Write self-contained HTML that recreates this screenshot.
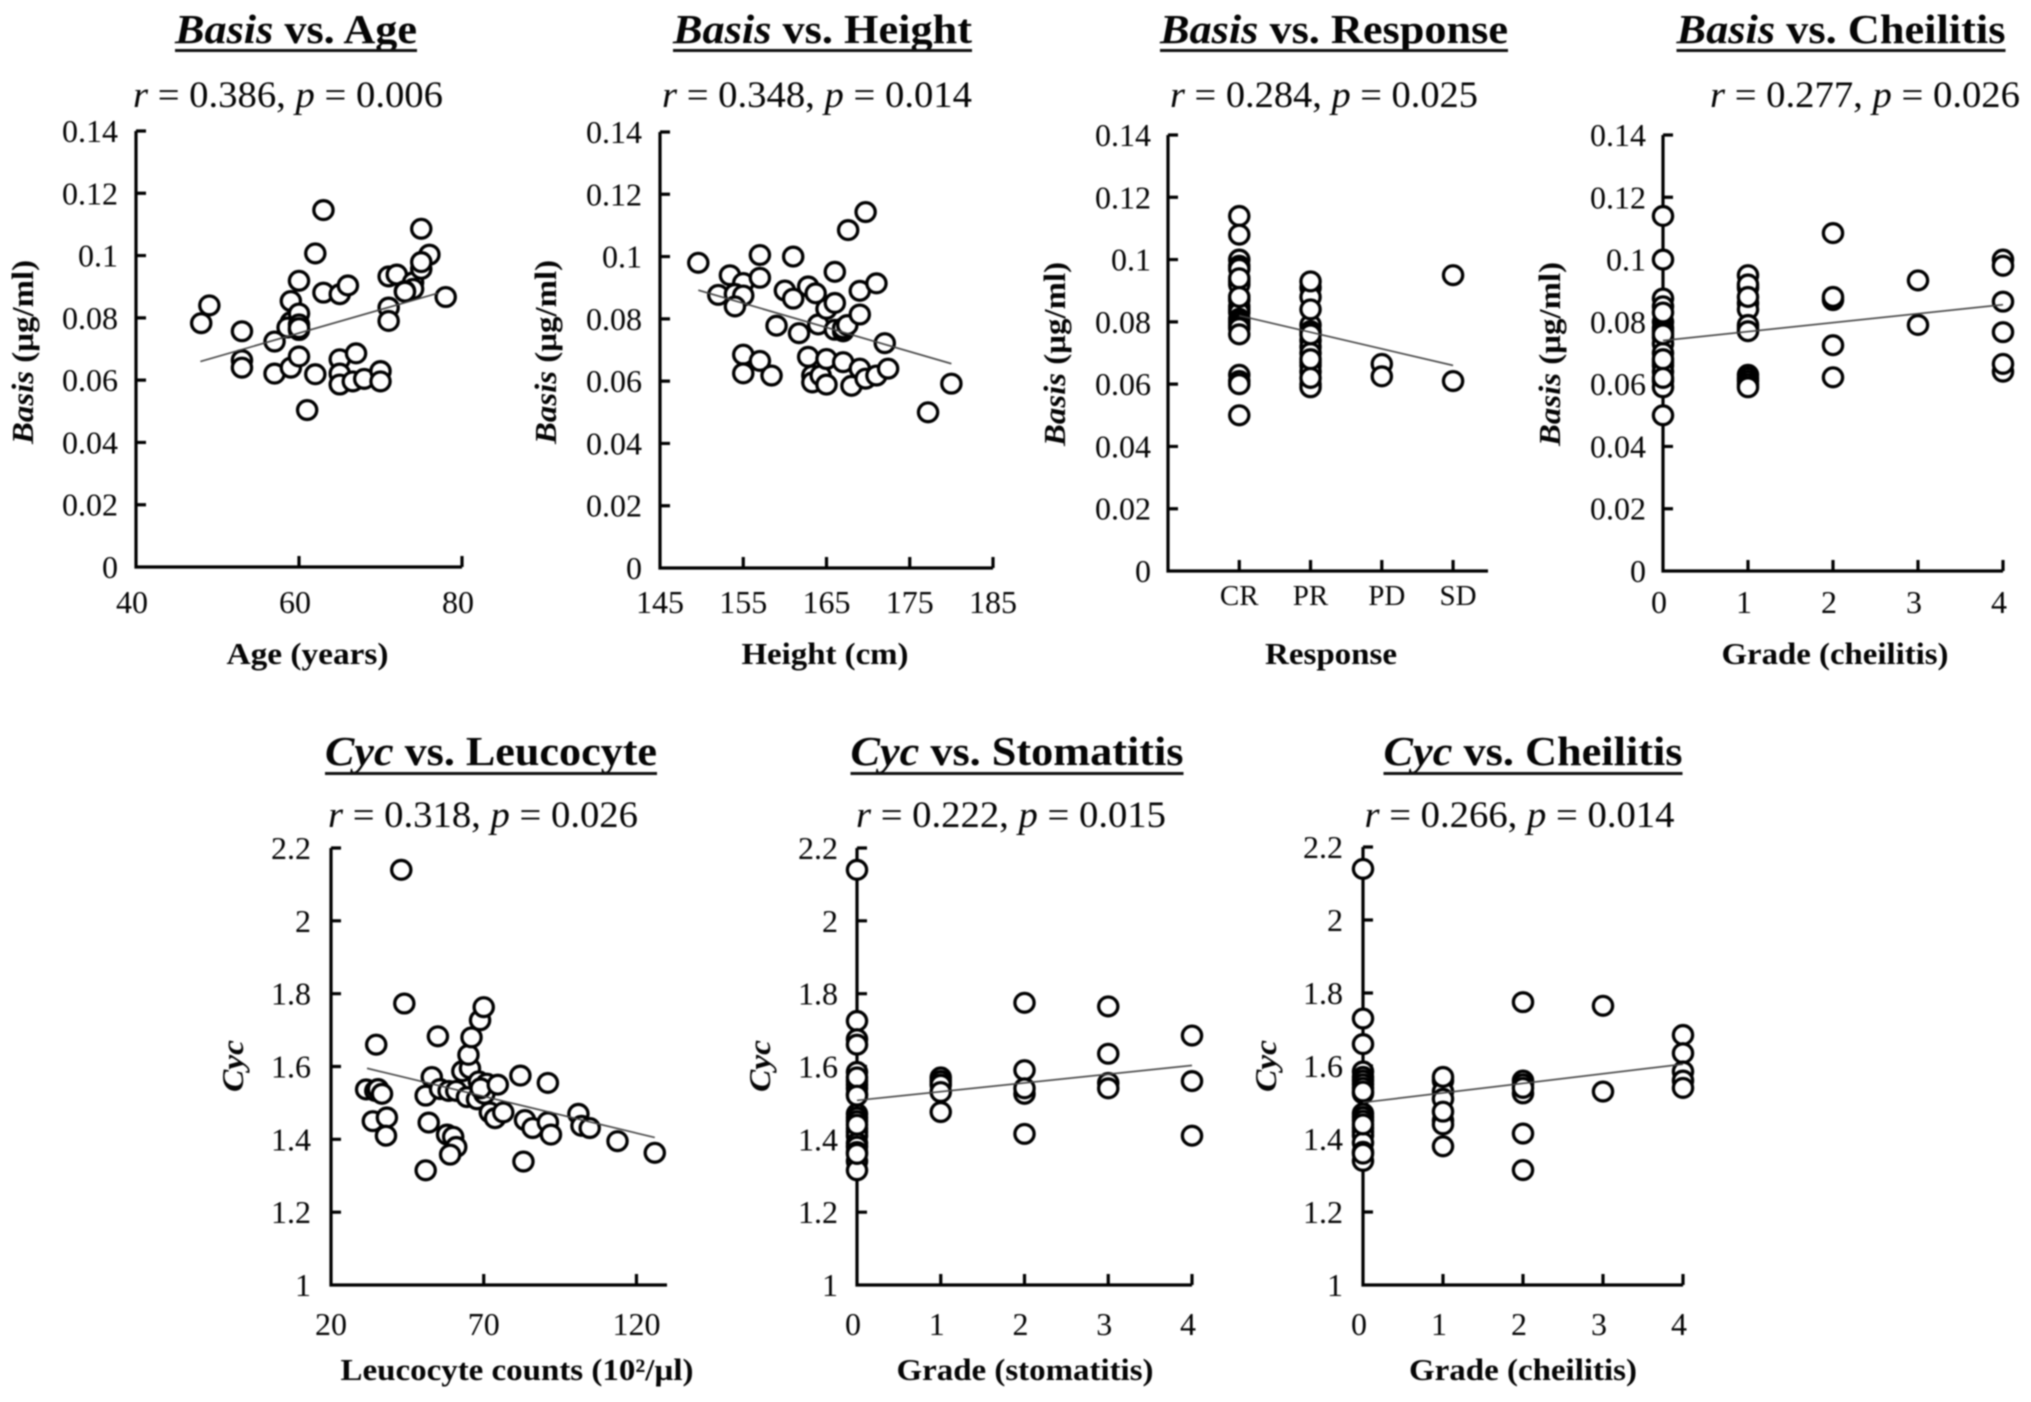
<!DOCTYPE html>
<html lang="en">
<head>
<meta charset="utf-8">
<title>Basis and Cyc correlation scatter plots</title>
<style>
html,body{margin:0;padding:0;background:#fff;}
#figure{display:block;width:2031px;height:1402px;filter:blur(0.8px);}
text{font-family:"Liberation Serif",serif;fill:#050505;}
.title{font-size:41px;font-weight:bold;text-anchor:middle;}
.stat{font-size:37px;text-anchor:middle;}
.xlabel{font-size:31px;font-weight:bold;text-anchor:middle;}
.ylabel{font-size:31px;font-weight:bold;text-anchor:middle;}
.tick{font-size:32px;}
.cat{font-size:29px;}
</style>
</head>
<body>
<svg id="figure" xmlns="http://www.w3.org/2000/svg" width="2031" height="1402" viewBox="0 0 2031 1402">
<rect width="2031" height="1402" fill="#fff"/>

<text class="title" x="296" y="43" textLength="242" lengthAdjust="spacingAndGlyphs"><tspan font-style="italic">Basis</tspan> vs. Age</text>
<rect x="175" y="49" width="242" height="3" fill="#111"/>
<text class="stat" x="288" y="107" textLength="310" lengthAdjust="spacingAndGlyphs"><tspan font-style="italic">r</tspan> = 0.386, <tspan font-style="italic">p</tspan> = 0.006</text>
<text class="xlabel" x="307.500" y="664" textLength="162" lengthAdjust="spacingAndGlyphs">Age (years)</text>
<text class="ylabel" transform="translate(33 352) rotate(-90)" textLength="184" lengthAdjust="spacingAndGlyphs"><tspan font-style="italic">Basis</tspan> (µg/ml)</text>

<text class="title" x="822.500" y="43" textLength="299" lengthAdjust="spacingAndGlyphs"><tspan font-style="italic">Basis</tspan> vs. Height</text>
<rect x="673" y="49" width="299" height="3" fill="#111"/>
<text class="stat" x="817" y="107" textLength="310" lengthAdjust="spacingAndGlyphs"><tspan font-style="italic">r</tspan> = 0.348, <tspan font-style="italic">p</tspan> = 0.014</text>
<text class="xlabel" x="825" y="664" textLength="167" lengthAdjust="spacingAndGlyphs">Height (cm)</text>
<text class="ylabel" transform="translate(556 352) rotate(-90)" textLength="184" lengthAdjust="spacingAndGlyphs"><tspan font-style="italic">Basis</tspan> (µg/ml)</text>

<text class="title" x="1334" y="43" textLength="348" lengthAdjust="spacingAndGlyphs"><tspan font-style="italic">Basis</tspan> vs. Response</text>
<rect x="1160" y="49" width="348" height="3" fill="#111"/>
<text class="stat" x="1324" y="107" textLength="308" lengthAdjust="spacingAndGlyphs"><tspan font-style="italic">r</tspan> = 0.284, <tspan font-style="italic">p</tspan> = 0.025</text>
<text class="xlabel" x="1331" y="664" textLength="132" lengthAdjust="spacingAndGlyphs">Response</text>
<text class="ylabel" transform="translate(1065 354) rotate(-90)" textLength="184" lengthAdjust="spacingAndGlyphs"><tspan font-style="italic">Basis</tspan> (µg/ml)</text>

<text class="title" x="1841" y="43" textLength="329" lengthAdjust="spacingAndGlyphs"><tspan font-style="italic">Basis</tspan> vs. Cheilitis</text>
<rect x="1676.500" y="49" width="329" height="3" fill="#111"/>
<text class="stat" x="1865" y="107" textLength="310" lengthAdjust="spacingAndGlyphs"><tspan font-style="italic">r</tspan> = 0.277, <tspan font-style="italic">p</tspan> = 0.026</text>
<text class="xlabel" x="1835" y="664" textLength="227" lengthAdjust="spacingAndGlyphs">Grade (cheilitis)</text>
<text class="ylabel" transform="translate(1560 354) rotate(-90)" textLength="184" lengthAdjust="spacingAndGlyphs"><tspan font-style="italic">Basis</tspan> (µg/ml)</text>

<text class="title" x="491" y="765" textLength="332" lengthAdjust="spacingAndGlyphs"><tspan font-style="italic">Cyc</tspan> vs. Leucocyte</text>
<rect x="325" y="772" width="332" height="3" fill="#111"/>
<text class="stat" x="483" y="827" textLength="310" lengthAdjust="spacingAndGlyphs"><tspan font-style="italic">r</tspan> = 0.318, <tspan font-style="italic">p</tspan> = 0.026</text>
<text class="xlabel" x="517" y="1380" textLength="353" lengthAdjust="spacingAndGlyphs">Leucocyte counts (10²/µl)</text>
<text class="ylabel" transform="translate(243 1066) rotate(-90)" textLength="52" lengthAdjust="spacingAndGlyphs"><tspan font-style="italic">Cyc</tspan></text>

<text class="title" x="1017" y="765" textLength="333" lengthAdjust="spacingAndGlyphs"><tspan font-style="italic">Cyc</tspan> vs. Stomatitis</text>
<rect x="850.500" y="772" width="333" height="3" fill="#111"/>
<text class="stat" x="1011" y="827" textLength="310" lengthAdjust="spacingAndGlyphs"><tspan font-style="italic">r</tspan> = 0.222, <tspan font-style="italic">p</tspan> = 0.015</text>
<text class="xlabel" x="1025" y="1380" textLength="257" lengthAdjust="spacingAndGlyphs">Grade (stomatitis)</text>
<text class="ylabel" transform="translate(770 1066) rotate(-90)" textLength="52" lengthAdjust="spacingAndGlyphs"><tspan font-style="italic">Cyc</tspan></text>

<text class="title" x="1533" y="765" textLength="299" lengthAdjust="spacingAndGlyphs"><tspan font-style="italic">Cyc</tspan> vs. Cheilitis</text>
<rect x="1383.500" y="772" width="299" height="3" fill="#111"/>
<text class="stat" x="1519.500" y="827" textLength="310" lengthAdjust="spacingAndGlyphs"><tspan font-style="italic">r</tspan> = 0.266, <tspan font-style="italic">p</tspan> = 0.014</text>
<text class="xlabel" x="1523" y="1380" textLength="228" lengthAdjust="spacingAndGlyphs">Grade (cheilitis)</text>
<text class="ylabel" transform="translate(1276 1066) rotate(-90)" textLength="52" lengthAdjust="spacingAndGlyphs"><tspan font-style="italic">Cyc</tspan></text>
</svg>

<script>
// ---------- tick labels ----------
const basisTickLabels = ['0','0.02','0.04','0.06','0.08','0.1','0.12','0.14'];
const cycTickLabels = ['1','1.2','1.4','1.6','1.8','2','2.2'];
const ageTickLabels = ['40','60','80'];
const heightTickLabels = ['145','155','165','175','185'];
const gradeTickLabels = ['0','1','2','3','4'];
const leucocyteTickLabels = ['20','70','120'];
const responseCategories = ['CR','PR','PD','SD'];

// ---------- Basis vs. Age ----------
const ageX = [48,49,53,53,53,57,57,59,59,58.6,59,60,60,60,60,60,60,61,62,62,63,63,65,65,65,65,66,67,66.6,68,70,70,71,71,71,72,74,74,75,76,75,75,73,73,78];
const ageBasis = [.0783,.084,.0757,.0664,.064,.0724,.0621,.0854,.0786,.0769,.064,.0919,.0814,.0779,.0761,.0676,.0767,.0504,.1007,.0619,.1146,.0881,.0876,.0667,.0621,.0586,.0904,.0686,.0596,.0604,.0629,.0596,.0933,.0833,.079,.0939,.0914,.0893,.0957,.1003,.1086,.0979,.0886,.0884,.0867];
const ageTrendX = [47.9,77];
const ageTrendY = [.066,.0879];

// ---------- Basis vs. Height ----------
const heightX = [149.6,152,153.4,155,154,155,154,155,155,157,157,157,158.4,159,160,161,161,161.7,162.8,163.7,162.8,164,163.3,163.3,164.3,165,165,165,166,166,166,167,167,167.5,167,167.6,168,169,169,169,169.7,169.7,171,171,172,172.4,177.2,180];
const heightBasis = [.098,.0877,.094,.0915,.088,.0875,.084,.0685,.0625,.1005,.0932,.0665,.0618,.0778,.0891,.0865,.1,.0754,.0904,.0882,.0678,.0782,.0618,.0596,.0618,.0832,.0671,.0589,.0951,.0851,.0765,.076,.077,.078,.0661,.1085,.0585,.089,.0814,.064,.1143,.0608,.0914,.0618,.0722,.064,.05,.0592];
const heightTrendX = [149.6,180];
const heightTrendY = [.0892,.0656];

// ---------- Basis vs. Response ----------
const responseCR = [.114,.108,.1,.098,.097,.093,.092,.087,.085,.084,.083,.081,.08,.079,.078,.094,.088,.088,.076,.063,.061,.06,.05];
const responsePR = [.091,.088,.079,.077,.074,.072,.07,.067,.066,.064,.06,.059,.093,.084,.076,.068,.062];
const responsePD = [.0665,.0625];
const responseSD = [.095,.061];
const responseTrendX = [1,4];
const responseTrendY = [.082,.066];

// ---------- Basis vs. Cheilitis ----------
const basisCheilitisG0 = [.114,.1,.0875,.085,.08,.078,.077,.075,.073,.07,.067,.066,.064,.061,.059,.05,.083,.076,.068,.062];
const basisCheilitisG1 = [.095,.091,.086,.084,.078,.079,.077,.092,.088,.063,.062,.061,.06,.059];
const basisCheilitisG2 = [.1085,.087,.088,.0725,.0622];
const basisCheilitisG3 = [.0933,.079];
const basisCheilitisG4 = [.1,.098,.0865,.0767,.064,.0665];
const basisCheilitisTrendX = [0,4];
const basisCheilitisTrendY = [.074,.0855];

// ---------- Cyc vs. Leucocyte ----------
const leucocyteX = [31.5,34.5,35.4,36.7,34.8,33.7,38.3,38,43,44,51,52,51,53,55,55.7,58.5,58,60,61,59,61,63,65.5,65,66,68.8,70,64.5,67.8,68.4,71,70.2,69,74.6,72,73.7,76.4,82,83.5,86,83,91,91,92,101,102,104.7,113.8,126];
const leucocyteCyc = [1.537,1.533,1.538,1.525,1.66,1.45,1.46,1.41,2.14,1.773,1.52,1.446,1.315,1.571,1.683,1.538,1.533,1.413,1.407,1.379,1.358,1.533,1.587,1.595,1.632,1.68,1.727,1.763,1.516,1.51,1.559,1.553,1.525,1.54,1.55,1.474,1.458,1.474,1.575,1.453,1.431,1.339,1.555,1.447,1.413,1.47,1.437,1.431,1.395,1.363];
const leucocyteTrendX = [31.8,126];
const leucocyteTrendY = [1.595,1.405];

// ---------- Cyc vs. Stomatitis ----------
const stomatitisG0 = [2.14,1.725,1.675,1.66,1.585,1.56,1.55,1.54,1.525,1.47,1.46,1.45,1.43,1.42,1.41,1.39,1.38,1.365,1.34,1.315,1.36,1.57,1.52,1.44];
const stomatitisG1 = [1.57,1.56,1.55,1.53,1.475];
const stomatitisG2 = [1.775,1.59,1.525,1.54,1.415];
const stomatitisG3 = [1.765,1.635,1.555,1.54];
const stomatitisG4 = [1.685,1.56,1.41];
const stomatitisTrendX = [0,4];
const stomatitisTrendY = [1.507,1.603];

// ---------- Cyc vs. Cheilitis ----------
const cycCheilitisG0 = [2.14,1.73,1.66,1.585,1.57,1.56,1.55,1.54,1.525,1.47,1.46,1.45,1.43,1.42,1.41,1.39,1.34,1.365,1.36,1.53,1.44];
const cycCheilitisG1 = [1.56,1.53,1.51,1.57,1.45,1.44,1.475,1.38];
const cycCheilitisG2 = [1.775,1.56,1.55,1.525,1.54,1.415,1.315];
const cycCheilitisG3 = [1.765,1.53];
const cycCheilitisG4 = [1.685,1.635,1.585,1.56,1.54];
const cycCheilitisTrendX = [0,4];
const cycCheilitisTrendY = [1.5,1.605];

function groups(list, first) {
  const xs = [], ys = [];
  list.forEach((g, i) => g.forEach(v => { xs.push(first + i); ys.push(v); }));
  return { xs, ys };
}

const svgNS = 'http://www.w3.org/2000/svg';
const root = document.getElementById('figure');
const basisRange = [0, 0.14];
const cycRange = [1, 2.2];

function panel(id, box, xDomain, yDomain, xs, ys, trendX, trendY, yLabels, xLabels, xTickValues, opts) {
  const sx = v => box.l + (v - xDomain[0]) / (xDomain[1] - xDomain[0]) * (box.r - box.l);
  const sy = v => box.b - (v - yDomain[0]) / (yDomain[1] - yDomain[0]) * (box.b - box.t);
  const g = document.createElementNS(svgNS, 'g');
  
  
  root.appendChild(g);

  const axisPath = document.createElementNS(svgNS, 'path');
  
  
  let d = 'M' + box.l + ' ' + box.t + 'V' + box.b + 'H' + box.r;
  yLabels.forEach((lab, i) => {
    const y = box.b - i / (yLabels.length - 1) * (box.b - box.t);
    d += 'M' + box.l + ' ' + y + 'h10';
  });
  xTickValues.forEach(v => { d += 'M' + sx(v) + ' ' + box.b + 'v-11'; });
  axisPath.setAttribute('d', d);
  axisPath.setAttribute('fill', 'none');
  axisPath.setAttribute('stroke', '#000');
  axisPath.setAttribute('stroke-width', 3.2);
  g.appendChild(axisPath);

  const points = document.createElementNS(svgNS, 'g');
  
  
  g.appendChild(points);
  xs.forEach((x, i) => {
    const c = document.createElementNS(svgNS, 'ellipse');
    
    
    c.setAttribute('cx', sx(x));
    c.setAttribute('cy', sy(ys[i]));
    c.setAttribute('rx', 9.6);
    c.setAttribute('ry', 9.4);
    c.setAttribute('fill', '#fff');
    c.setAttribute('stroke', '#000');
    c.setAttribute('stroke-width', 3.3);
    points.appendChild(c);
  });

  const trend = document.createElementNS(svgNS, 'line');
  
  
  trend.setAttribute('x1', sx(trendX[0]));
  trend.setAttribute('y1', sy(trendY[0]));
  trend.setAttribute('x2', sx(trendX[1]));
  trend.setAttribute('y2', sy(trendY[1]));
  trend.setAttribute('stroke', '#444');
  trend.setAttribute('stroke-width', 1.6);
  g.appendChild(trend);

  yLabels.forEach((lab, i) => {
    const t = document.createElementNS(svgNS, 'text');
    
    
    t.setAttribute('class', 'tick');
    t.setAttribute('text-anchor', 'end');
    t.setAttribute('x', box.l - opts.yGap);
    t.setAttribute('y', box.b - i / (yLabels.length - 1) * (box.b - box.t) + 11);
    t.textContent = lab;
    g.appendChild(t);
  });
  xLabels.forEach((lab, i) => {
    const t = document.createElementNS(svgNS, 'text');
    
    
    t.setAttribute('class', opts.cat ? 'cat' : 'tick');
    t.setAttribute('text-anchor', 'middle');
    t.setAttribute('x', sx(opts.xLabelValues[i]) + opts.xShift);
    t.setAttribute('y', opts.xBase);
    t.textContent = lab;
    g.appendChild(t);
  });
}

const rG = groups([responseCR, responsePR, responsePD, responseSD], 1);
const bcG = groups([basisCheilitisG0, basisCheilitisG1, basisCheilitisG2, basisCheilitisG3, basisCheilitisG4], 0);
const stG = groups([stomatitisG0, stomatitisG1, stomatitisG2, stomatitisG3, stomatitisG4], 0);
const ccG = groups([cycCheilitisG0, cycCheilitisG1, cycCheilitisG2, cycCheilitisG3, cycCheilitisG4], 0);

panel('basis-age', {l:136,r:462,t:131,b:567}, [40,80], basisRange, ageX, ageBasis, ageTrendX, ageTrendY, basisTickLabels, ageTickLabels, [60,80],
  {yGap:18, xShift:-4, xBase:613, xLabelValues:ageTickLabels.map(Number)});
panel('basis-height', {l:660,r:993,t:132,b:568}, [145,185], basisRange, heightX, heightBasis, heightTrendX, heightTrendY, basisTickLabels, heightTickLabels, [155,165,175,185],
  {yGap:18, xShift:0, xBase:613, xLabelValues:heightTickLabels.map(Number)});
panel('basis-response', {l:1168,r:1488,t:135,b:571}, [0,4.49], basisRange, rG.xs, rG.ys, responseTrendX, responseTrendY, basisTickLabels, responseCategories, [1,2,3,4],
  {yGap:17, xShift:0, xBase:605, cat:true, xLabelValues:[1,2,3.07,4.07]});
panel('basis-cheilitis', {l:1663,r:2003,t:135,b:571}, [0,4], basisRange, bcG.xs, bcG.ys, basisCheilitisTrendX, basisCheilitisTrendY, basisTickLabels, gradeTickLabels, [1,2,3,4],
  {yGap:17, xShift:-4, xBase:613, xLabelValues:gradeTickLabels.map(Number)});
panel('cyc-leucocyte', {l:331,r:667,t:848,b:1285}, [20,130], cycRange, leucocyteX, leucocyteCyc, leucocyteTrendX, leucocyteTrendY, cycTickLabels, leucocyteTickLabels, [70,120],
  {yGap:20, xShift:0, xBase:1335, xLabelValues:leucocyteTickLabels.map(Number)});
panel('cyc-stomatitis', {l:857,r:1192,t:848,b:1285}, [0,4], cycRange, stG.xs, stG.ys, stomatitisTrendX, stomatitisTrendY, cycTickLabels, gradeTickLabels, [1,2,3,4],
  {yGap:19, xShift:-4, xBase:1335, xLabelValues:gradeTickLabels.map(Number)});
panel('cyc-cheilitis', {l:1363,r:1683,t:847,b:1285}, [0,4], cycRange, ccG.xs, ccG.ys, cycCheilitisTrendX, cycCheilitisTrendY, cycTickLabels, gradeTickLabels, [1,2,3,4],
  {yGap:20, xShift:-4, xBase:1335, xLabelValues:gradeTickLabels.map(Number)});
</script>
</body>
</html>
